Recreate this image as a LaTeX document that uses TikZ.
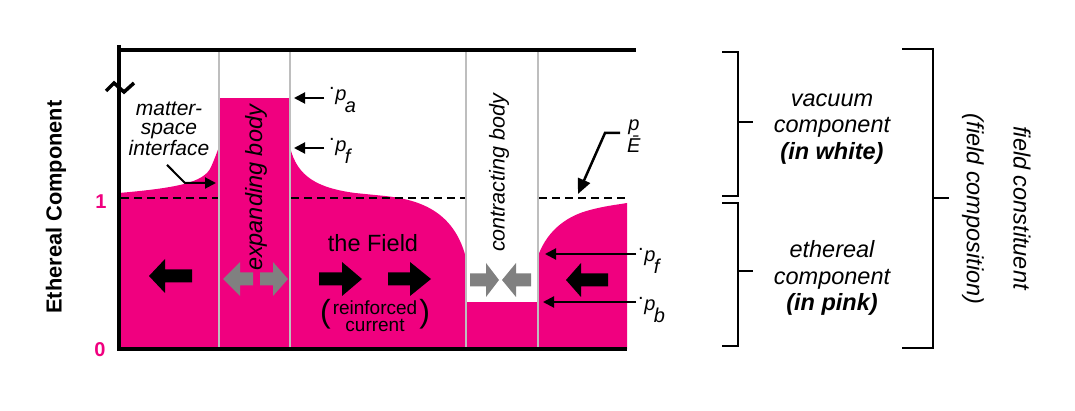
\documentclass[tikz,border=0pt]{standalone}
\usepackage{fontspec}
\setmainfont{Liberation Sans}
\usetikzlibrary{arrows.meta}
\definecolor{pinkf}{RGB}{240,0,127}
\definecolor{garrow}{RGB}{128,128,128}
\definecolor{gline}{RGB}{190,190,190}
\tikzset{
  axisline/.style={line width=4pt},
  divider/.style={draw=gline, line width=2pt},
  dashline/.style={line width=1.5pt, dash pattern=on 8pt off 5pt},
  ptr/.style={line width=2pt, -{Triangle[length=11pt,width=11pt]}},
  ptrE/.style={line width=2.5pt, -{Triangle[length=15pt,width=13pt]}},
  brk/.style={line width=2.5pt},
  lbl/.style={font=\itshape\fontsize{23.5}{26.5}\selectfont, align=center, inner sep=0pt},
  plabel/.style={font=\fontsize{20}{22}\selectfont, inner sep=0pt},
  vtext/.style={rotate=90, inner sep=0pt, font=\itshape\fontsize{23.5}{26}\selectfont},
}
\newcommand\fatarr[5]{%
  \fill[#5] (#1,#4-6.5) -- (#2,#4-6.5) -- (#2,#4-17) -- (#3,#4) -- (#2,#4+17) -- (#2,#4+6.5) -- (#1,#4+6.5) -- cycle;}
\newcommand\plab[1]{\raisebox{0.55em}{.}\kern0.5pt\textit{p}\kern-1.5pt\raisebox{-0.6em}{\textit{#1}}}
\begin{document}
\begin{tikzpicture}[x=1pt,y=-1pt]
\useasboundingbox (0,0) rectangle (1075,411);
% pink ethereal component
\fill[pinkf] (119,349) -- (119,193) .. controls (175,188) and (204,183) .. (211,167) .. controls (215,158) and (217,152) .. (219,147) -- (219,349) -- cycle;
\fill[pinkf] (219,98) rectangle (290,349);
\fill[pinkf] (290,349) -- (290,147) .. controls (297,177) and (318,188) .. (355,193) -- (385,196) .. controls (425,200) and (455,215) .. (466,258) -- (466,349) -- cycle;
\fill[pinkf] (466,302) rectangle (538,349);
\fill[pinkf] (538,349) -- (538,256) .. controls (548,228) and (570,215) .. (590,210) .. controls (605,206) and (615,205) .. (627,203) -- (627,349) -- cycle;
% level 1 dashed line
\draw[dashline] (121,198) -- (219,198);
\draw[dashline] (291,198) -- (466,198);
\draw[dashline] (539,198) -- (625,198);
% dividers
\foreach \x in {219,290,466,538} \draw[divider] (\x,50) -- (\x,349);
% axes
\draw[axisline] (119,45) -- (119,351);
\draw[axisline] (117,50) -- (636,50);
\draw[axisline] (117,349) -- (627,349);
\draw[line width=3.5pt] (106,91) -- (114,83) -- (124,92) -- (134,83);
% axis labels
\node[rotate=90, inner sep=0pt, font=\bfseries\fontsize{21.8}{24}\selectfont] (ylab) at (56,207) {Ethereal Component};
\node[inner sep=0pt, text=pinkf, font=\bfseries\fontsize{20}{22}\selectfont] (one) at (101,202) {1};
\node[inner sep=0pt, text=pinkf, font=\bfseries\fontsize{20}{22}\selectfont] (zero) at (100,350) {0};
% fat arrows
\fatarr{192}{165}{149}{276}{black}
\fatarr{253}{240}{223}{279}{garrow}
\fatarr{260}{273}{288}{279}{garrow}
\fatarr{319}{342}{362}{279}{black}
\fatarr{388}{410}{431}{279}{black}
\fatarr{470}{486}{499}{280}{garrow}
\fatarr{531}{516}{502}{280}{garrow}
\fatarr{608}{581}{566}{280}{black}
% texts in the plot
\node[vtext] (exp) at (256,188) {expanding body};
\node[vtext, font=\itshape\fontsize{21.5}{24}\selectfont] (con) at (499,173) {contracting body};
\node[inner sep=0pt, font=\fontsize{23.5}{26}\selectfont] (field) at (373,243) {the Field};
\node[inner sep=0pt, font=\fontsize{19}{17}\selectfont] (rc) at (375,318) {{\fontsize{32}{32}\selectfont(}\kern2pt\begin{tabular}{@{}c@{}}reinforced\\current\end{tabular}\kern2pt{\fontsize{32}{32}\selectfont)}};
\node[inner sep=0pt, align=center, font=\itshape\fontsize{21}{19}\selectfont] (msi) at (169,129) {matter-\\space\\interface};
\coordinate (msi-h) at (216,183);
\draw[ptr] (msi.south) ++(-2,9) -- (185,183) -- (msi-h);
% p labels
\node[plabel, anchor=base west] (pa) at (329,101) {\plab{a}};
\coordinate (pa-t) at (324,98); \coordinate (pa-h) at (294,98);
\draw[ptr] (pa-t) -- (pa-h);
\node[plabel, anchor=base west] (pf1) at (329,152) {\plab{f}};
\coordinate (pf1-t) at (324,148); \coordinate (pf1-h) at (294,148);
\draw[ptr] (pf1-t) -- (pf1-h);
\node[plabel, anchor=base west] (pf2) at (638,262) {\plab{f}};
\coordinate (pf2-t) at (636,254); \coordinate (pf2-h) at (545,254);
\draw[ptr] (pf2-t) -- (pf2-h);
\node[plabel, anchor=base west] (pb) at (638,311) {\plab{b}};
\coordinate (pb-t) at (636,302); \coordinate (pb-h) at (543,302);
\draw[ptr] (pb-t) -- (pb-h);
\node[plabel, align=center, anchor=north] (pE) at (634,120) {\textit{p}\\\textit{\=E}};
\coordinate (pE-h) at (578,194);
\draw[ptrE] (620,133) -- (605,133) -- (pE-h);
% right-hand brackets
\draw[brk] (722,52) -- (738,52) -- (738,196) -- (722,196);
\draw[brk] (738,122) -- (753,122);
\draw[brk] (722,203) -- (738,203) -- (738,346) -- (722,346);
\draw[brk] (738,271) -- (753,271);
\draw[brk] (902,49) -- (933,49) -- (933,348) -- (902,348);
\draw[brk] (933,198) -- (949,198);
\node[lbl] (vac) at (832,129) {vacuum\\component\\{\bfseries (in white)}};
\node[lbl] (eth) at (832,278) {ethereal\\component\\{\bfseries (in pink)}};
\node[lbl, rotate=-90] (fcomp) at (973,209) {(field composition)};
\node[lbl, rotate=-90] (fconst) at (1022,208) {field constituent};
\end{tikzpicture}
\end{document}
